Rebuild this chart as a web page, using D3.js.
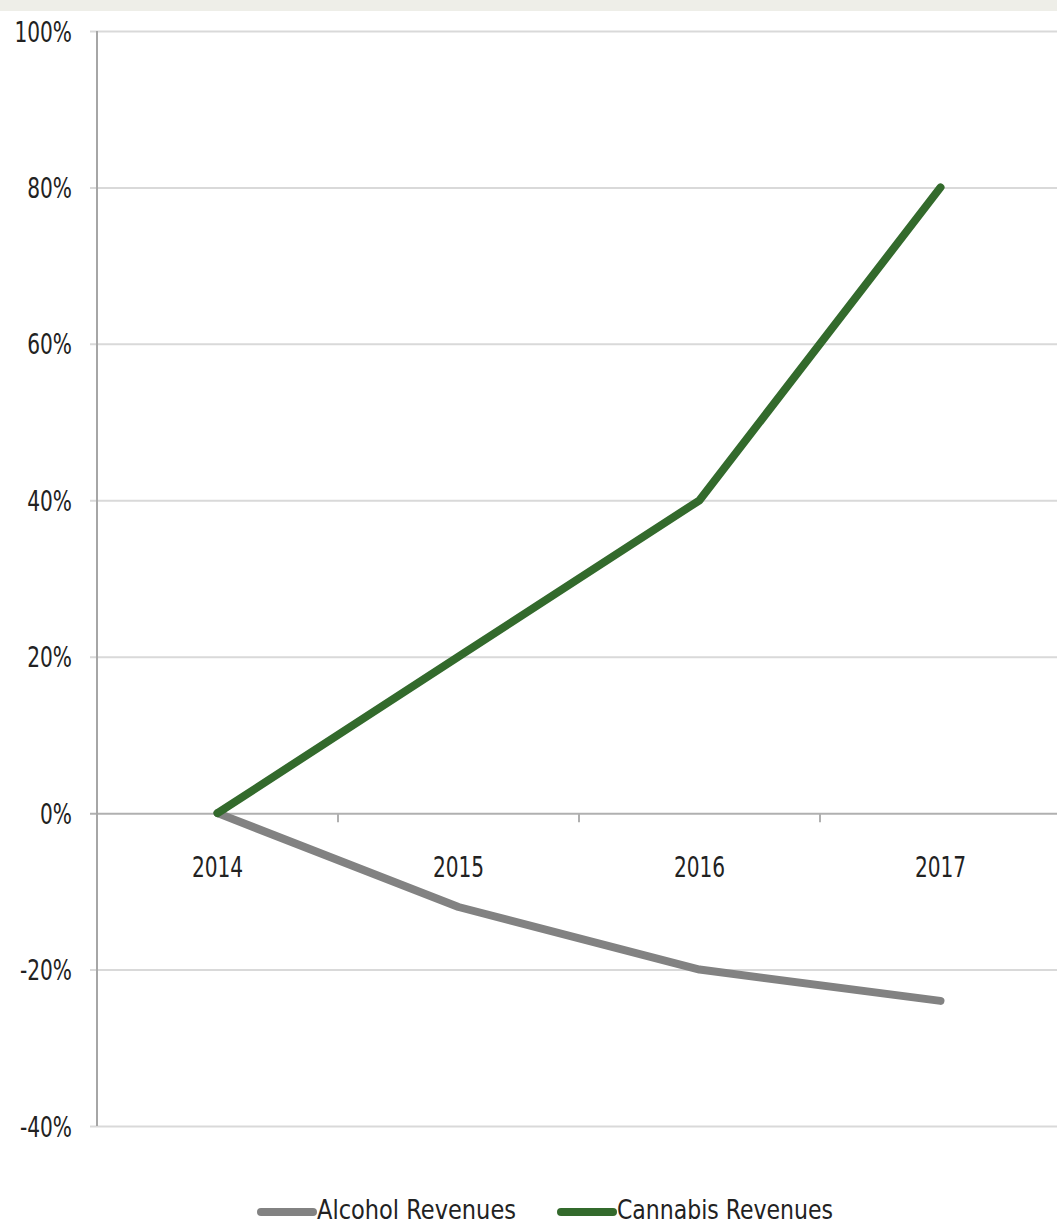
<!DOCTYPE html>
<html>
<head>
<meta charset="utf-8">
<script src="https://cdn.jsdelivr.net/npm/d3@7"></script>
<style>
  html, body { margin: 0; padding: 0; background: #ffffff; }
  svg { display: block; }
  text { font-family: "DejaVu Sans Condensed", "Liberation Sans Narrow", sans-serif; fill: #222; }
</style>
</head>
<body>
<svg id="chart" width="1057" height="1227"></svg>
<script>
const years = ["2014", "2015", "2016", "2017"];
const alcohol = [0, -12, -20, -24];
const cannabis = [0, 20, 40, 80];
const yTicks = [-40, -20, 0, 20, 40, 60, 80, 100];
const seriesNames = ["Alcohol Revenues", "Cannabis Revenues"];
const seriesColors = ["#828282", "#336a2c"];

const W = 1057, H = 1227;
const SX = 0.8;
const svg = d3.select("#chart");

svg.append("rect").attr("x", 0).attr("y", 0).attr("width", W).attr("height", 11).attr("fill", "#eeeee8");

const x = d3.scaleBand().domain(years).range([97, 1061]).padding(0);
const y = d3.scaleLinear().domain([-40, 100]).range([1126, 31]);

// gridlines
const yAxis = d3.axisLeft(y).tickValues(yTicks).tickSize(-(W - 97)).tickFormat("");
const gy = svg.append("g").attr("transform", "translate(97,0)").call(yAxis);
gy.select(".domain").remove();
gy.selectAll(".tick line").attr("stroke", d => d === 0 ? "#b0b0b0" : "#d9d9d9").attr("stroke-width", 2)
  .attr("x1", -7);
// condensed y labels
gy.selectAll(".tick").append("text")
  .attr("transform", `translate(-25,10) scale(${SX},1)`)
  .attr("text-anchor", "end").attr("font-size", 28).attr("fill", "#2a2a2a")
  .text(d => d + "%");

// y axis line
svg.append("line").attr("x1", 97).attr("x2", 97).attr("y1", y(100)).attr("y2", y(-40))
  .attr("stroke", "#a6a6a6").attr("stroke-width", 2);

// x axis at zero with boundary ticks
const gx = svg.append("g").attr("transform", `translate(0,${y(0)})`);
gx.selectAll("line.bt").data(years.slice(1)).enter().append("line")
  .attr("x1", d => x(d)).attr("x2", d => x(d)).attr("y1", 0).attr("y2", 9)
  .attr("stroke", "#b0b0b0").attr("stroke-width", 2);
gx.selectAll("text").data(years).enter().append("text")
  .attr("transform", d => `translate(${x(d) + x.bandwidth() / 2},64) scale(${SX},1)`)
  .attr("text-anchor", "middle").attr("font-size", 28).attr("fill", "#2a2a2a").text(d => d);

// lines
const line = d3.line().x((d, i) => x(years[i]) + x.bandwidth() / 2).y(d => y(d));
[alcohol, cannabis].forEach((s, i) => {
  svg.append("path").datum(s).attr("d", line).attr("fill", "none")
    .attr("stroke", seriesColors[i]).attr("stroke-width", 8)
    .attr("stroke-linecap", "round").attr("stroke-linejoin", "round");
});

// legend
const legendItems = [{x: 257, tx: 317, w: 199}, {x: 557, tx: 617, w: 216}];
legendItems.forEach((it, i) => {
  svg.append("line").attr("x1", it.x + 4).attr("x2", it.tx - 4).attr("y1", 1212).attr("y2", 1212)
    .attr("stroke", seriesColors[i]).attr("stroke-width", 8).attr("stroke-linecap", "round");
  svg.append("text").attr("x", it.tx).attr("y", 1219).attr("font-size", 27).attr("fill", "#2a2a2a")
    .attr("textLength", it.w).attr("lengthAdjust", "spacingAndGlyphs")
    .text(seriesNames[i]);
});
</script>
</body>
</html>
